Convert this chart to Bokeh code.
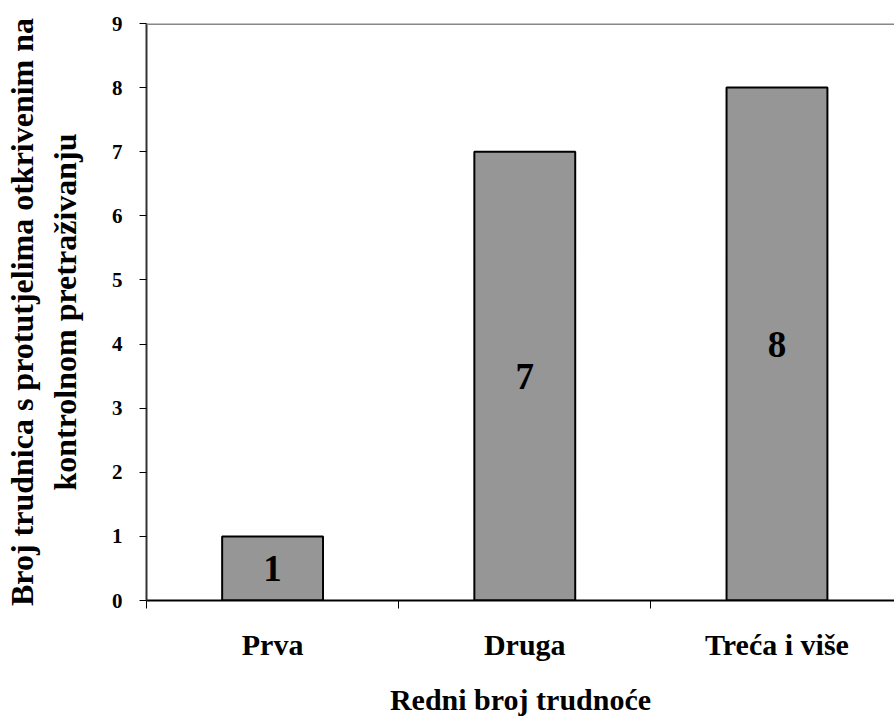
from bokeh.plotting import figure
from bokeh.models import Range1d, FixedTicker, Span, ColumnDataSource
from bokeh.core.properties import value
from bokeh.embed import file_html
from bokeh.resources import INLINE

categories = ["Prva", "Druga", "Treća i više"]
counts = [1, 7, 8]
y_ticks = list(range(0, 10))
y_title = "Broj trudnica s protutjelima otkrivenim na\nkontrolnom pretraživanju"
x_title = "Redni broj trudnoće"

FONT = "Liberation Serif"

xs = [i + 0.5 for i in range(len(categories))]
src = ColumnDataSource(dict(
    x=xs, top=counts, mid=[c / 2 for c in counts], lab=[str(c) for c in counts]
))

p = figure(width=894, height=718, output_backend="svg", toolbar_location=None,
           x_range=Range1d(0, 2.966), y_range=Range1d(0, 9),
           min_border_left=142, min_border_right=0, min_border_top=23,
           min_border_bottom=118)
p.outline_line_color = None
p.xgrid.visible = False
p.ygrid.visible = False
p.background_fill_color = "white"
p.border_fill_color = "white"

p.vbar(x="x", top="top", width=0.4, source=src, fill_color="#969696",
       line_color="black", line_width=2)
p.text(x="x", y="mid", text="lab", source=src, text_align="center",
       text_baseline="middle", text_font=value(FONT), text_font_style="bold",
       text_font_size="37px", text_color="black")

top_line = Span(location=9, dimension="width", line_color="#888888", line_width=3)
p.add_layout(top_line)

# x axis
xa = p.xaxis[0]
xa.ticker = FixedTicker(ticks=xs, minor_ticks=[0, 1, 2, 3])
xa.major_label_overrides = {x: c for x, c in zip(xs, categories)}
xa.major_tick_line_color = None
xa.major_tick_out = 0
xa.major_tick_in = 0
xa.minor_tick_line_color = "black"
xa.minor_tick_out = 8
xa.minor_tick_in = 0
xa.minor_tick_line_width = 1
xa.axis_line_color = "black"
xa.axis_line_width = 2
xa.major_label_text_font = FONT
xa.major_label_text_font_style = "bold"
xa.major_label_text_font_size = "30px"
xa.major_label_text_color = "black"
xa.major_label_standoff = 19
xa.axis_label = x_title
xa.axis_label_text_font = FONT
xa.axis_label_text_font_style = "bold"
xa.axis_label_text_font_size = "30px"
xa.axis_label_text_color = "black"
xa.axis_label_standoff = 19

# y axis
ya = p.yaxis[0]
ya.ticker = FixedTicker(ticks=y_ticks, minor_ticks=[])
ya.major_tick_out = 7
ya.major_tick_in = 0
ya.major_tick_line_color = "black"
ya.major_tick_line_width = 1
ya.axis_line_color = "#333333"
ya.axis_line_width = 2
ya.major_label_text_font = FONT
ya.major_label_text_font_style = "bold"
ya.major_label_text_font_size = "21px"
ya.major_label_text_color = "black"
ya.major_label_standoff = 17
ya.axis_label = y_title
ya.axis_label_text_font = FONT
ya.axis_label_text_font_style = "bold"
ya.axis_label_text_font_size = "32px"
ya.axis_label_text_color = "black"
ya.axis_label_standoff = 26

open("out.html", "w").write(file_html(p, INLINE))
